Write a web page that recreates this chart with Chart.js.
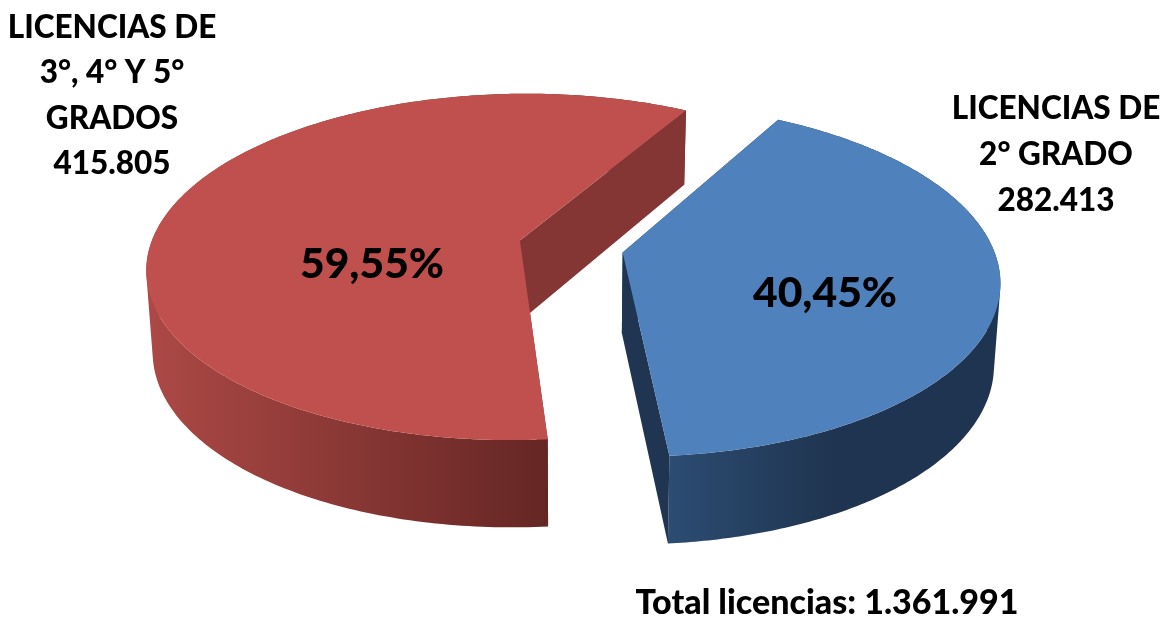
<!DOCTYPE html>
<html>
<head>
<meta charset="utf-8">
<style>html,body{margin:0;padding:0;background:#fff;overflow:hidden}canvas{display:block}</style>
<script src="https://cdn.jsdelivr.net/npm/chart.js@4"></script>
</head>
<body>
<canvas id="c" width="1161" height="618"></canvas>
<script>
const categories = ['LICENCIAS DE 2° GRADO', 'LICENCIAS DE 3°, 4° Y 5° GRADOS'];
const values = [282413, 415805];
const percentLabels = ['40,45%', '59,55%'];
const blueLabel = ['LICENCIAS DE', '2° GRADO', '282.413'];
const redLabel = ['LICENCIAS DE', '3°, 4° Y 5°', 'GRADOS', '415.805'];
const totalLabel = 'Total licencias: 1.361.991';
const topColors = ['#4F81BD', '#C0504D'];
const radialWallColors = ['#1F3552', '#843634'];
const outerWallStops = [['#2C4C72', '#1F3450'], ['#AD4946', '#652624']];

// Oblique-perspective view applied to the arcs the pie controller lays out
const view = { x0: 571, y0: 246.5, A: 370, B: 171, p: 0.1527, tilt: 1.15, conv: 0.015, xv: 571 };
function project(X, Y, bottom) {
  const w = 1 - view.p * Y;
  let sx = view.x0 + view.A * X / w;
  let sy = view.y0 + view.B * Y / w;
  if (bottom) { sx += (view.xv - sx) * view.conv; sy += 80.5 + 7 * Y; }
  return [sx, sy];
}

const pie3d = {
  id: 'pie3d',
  beforeDatasetDraw(chart, args) {
    const ctx = chart.ctx;
    const meta = chart.getDatasetMeta(args.index);
    meta.data.forEach((el, i) => {
      const { startAngle: a0, endAngle: a1, outerRadius: R } = el.getProps(['startAngle', 'endAngle', 'outerRadius'], true);
      const m = (a0 + a1) / 2, d = el.options.offset / R;
      const ox = d * Math.cos(m), oy = d * Math.sin(m) * view.tilt;
      const pt = (a, r, bottom) => project(r * Math.cos(a) + ox, r * Math.sin(a) + oy, bottom);
      const rim = [];
      const n = 240;
      for (let k = 0; k <= n; k++) rim.push(a0 + (a1 - a0) * k / n);
      const sub = pts => {
        pts.forEach((p, j) => j ? ctx.lineTo(p[0], p[1]) : ctx.moveTo(p[0], p[1]));
        ctx.closePath();
      };
      const poly = (pts, fill) => {
        ctx.beginPath();
        sub(pts);
        ctx.fillStyle = fill;
        ctx.fill();
      };
      const radial = a => poly([pt(a, 0, false), pt(a, 1, false), pt(a, 1, true), pt(a, 0, true)], radialWallColors[i]);
      radial(a0);
      // outer wall: union of equally wound strips, so the silhouette is a straight tangent edge
      const top = rim.map(a => pt(a, 1, false));
      const xs = top.map(p => p[0]);
      const frontAngle = i === 0 ? a1 : a0;
      const frontX = pt(frontAngle, 1, false)[0];
      const farX = i === 0 ? Math.max(...xs) : Math.min(...xs);
      const g = ctx.createLinearGradient(i === 0 ? frontX : farX, 0, i === 0 ? frontX + (farX - frontX) * 0.5 : frontX, 0);
      g.addColorStop(0, outerWallStops[i][0]);
      g.addColorStop(1, outerWallStops[i][1]);
      ctx.beginPath();
      for (let k = 0; k < n; k++) {
        const q = [pt(rim[k], 1, false), pt(rim[k + 1], 1, false), pt(rim[k + 1], 1, true), pt(rim[k], 1, true)];
        let area = 0;
        q.forEach((p, j) => { const r = q[(j + 1) % 4]; area += p[0] * r[1] - r[0] * p[1]; });
        sub(area < 0 ? q.reverse() : q);
      }
      ctx.fillStyle = g;
      ctx.fill('nonzero');
      radial(a1);
      // top face
      poly([pt(a0, 0, false)].concat(top), el.options.backgroundColor);
    });
    return false;
  },
  afterDraw(chart) {
    const ctx = chart.ctx;
    ctx.save();
    ctx.fillStyle = '#000';
    ctx.textAlign = 'center';
    ctx.textBaseline = 'alphabetic';
    ctx.font = '900 31.5px Lato';
    redLabel.forEach((t, i) => ctx.fillText(t, 112, 38 + i * 45.4));
    blueLabel.forEach((t, i) => ctx.fillText(t, 1056, 119 + i * 46));
    ctx.font = '900 34px Lato';
    ctx.fillText(totalLabel, 827, 614);
    ctx.font = '900 42.6px Lato';
    ctx.fillText(percentLabels[1], 372, 278);
    ctx.fillText(percentLabels[0], 825, 307);
    ctx.restore();
  }
};

new Chart(document.getElementById('c'), {
  type: 'pie',
  data: {
    labels: categories,
    datasets: [{ data: values, backgroundColor: topColors, borderWidth: 0, offset: 41 }]
  },
  options: {
    responsive: false,
    animation: false,
    rotation: 29.5,
    plugins: { legend: { display: false }, tooltip: { enabled: false } }
  },
  plugins: [pie3d]
});
</script>
</body>
</html>
